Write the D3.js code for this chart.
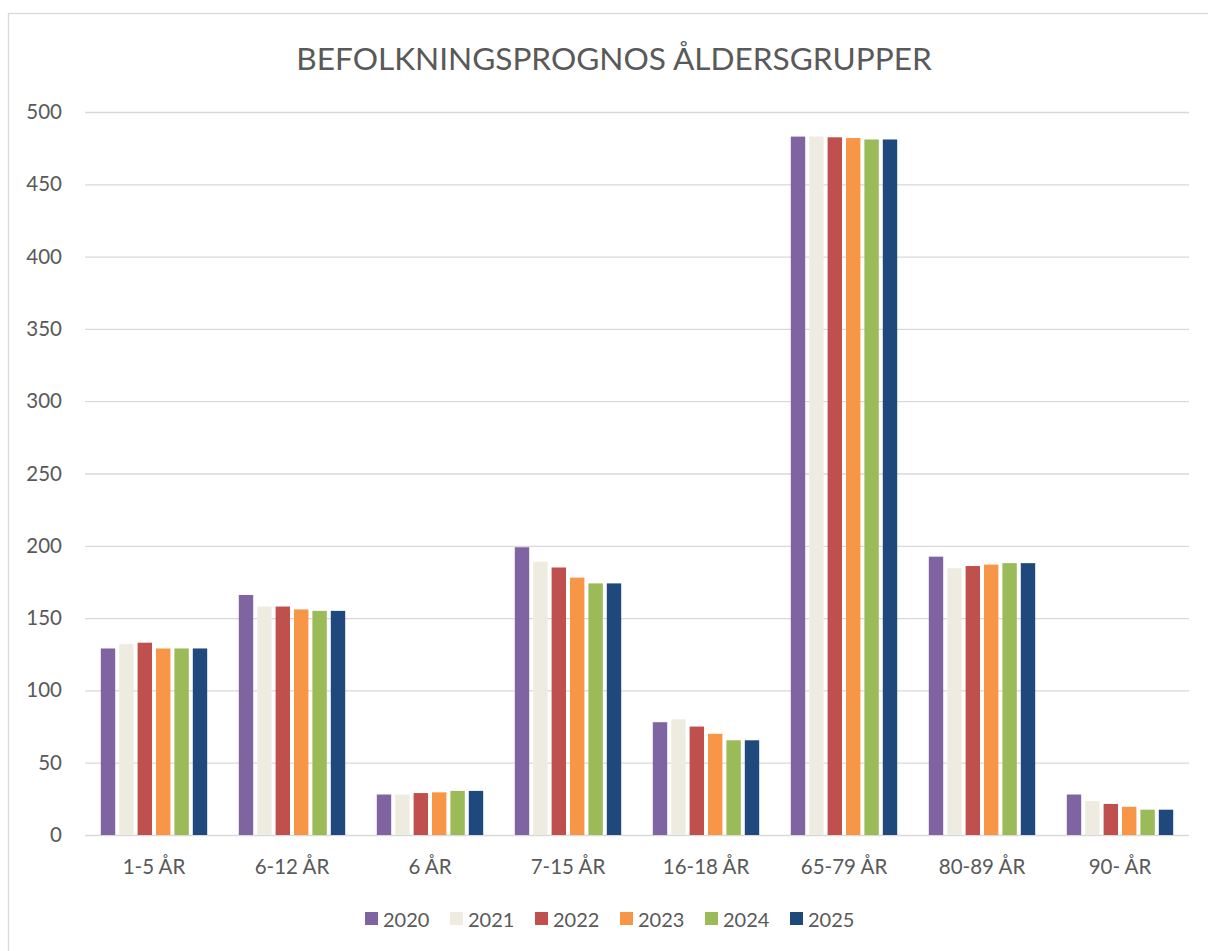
<!DOCTYPE html>
<html>
<head>
<meta charset="utf-8">
<script src="https://cdn.jsdelivr.net/npm/d3@7"></script>
<style>
  body { margin: 0; background: #fff; }
  svg text { font-family: Lato, "Open Sans", sans-serif; fill: #595959; }
</style>
</head>
<body>
<svg id="chart"></svg>
<script>
const WIDTH = 1208;
const HEIGHT = 951;

// Data
const categories = ["1-5 ÅR", "6-12 ÅR", "6 ÅR", "7-15 ÅR", "16-18 ÅR", "65-79 ÅR", "80-89 ÅR", "90- ÅR"];
const years = ["2020", "2021", "2022", "2023", "2024", "2025"];
const v2020 = [129, 166, 28, 199, 78, 483, 192.5, 28];
const v2021 = [132, 158, 28, 189, 80, 483, 184.5, 23.5];
const v2022 = [133, 158, 29, 185, 75, 482.5, 186, 21.5];
const v2023 = [129, 156, 29.5, 178, 70, 482, 187, 19.5];
const v2024 = [129, 155, 30.5, 174, 65.5, 481, 188, 17.5];
const v2025 = [129, 155, 30.5, 174, 65.5, 481, 188, 17.5];
const yTicks = [0, 50, 100, 150, 200, 250, 300, 350, 400, 450, 500];
const colors = ["#8064A2", "#EEECE1", "#C0504D", "#F79646", "#9BBB59", "#1F497D"];

const seriesValues = [v2020, v2021, v2022, v2023, v2024, v2025];

const svg = d3.select("#chart").attr("width", WIDTH).attr("height", HEIGHT);

// chart area border
svg.append("rect")
    .attr("x", 8.5).attr("y", 13.5)
    .attr("width", WIDTH + 20).attr("height", HEIGHT + 20)
    .attr("fill", "none")
    .attr("stroke", "#D9D9D9")
    .attr("stroke-width", 1.3);

const x0 = d3.scaleBand().domain(categories).range([85, 1189]).paddingInner(0.2).paddingOuter(0.1);
const x1 = d3.scaleBand().domain(years).range([0, x0.bandwidth()]);
const y = d3.scaleLinear().domain([0, 500]).range([835, 112]);

// title
svg.append("text")
    .attr("x", 614).attr("y", 70)
    .attr("text-anchor", "middle")
    .attr("font-size", 31.6)
    .text("BEFOLKNINGSPROGNOS ÅLDERSGRUPPER");

// gridlines
const yAxis = d3.axisLeft(y).tickValues(yTicks).tickSize(-(1189 - 85)).tickPadding(23);
const gy = svg.append("g").attr("transform", "translate(85,0)").call(yAxis);
gy.select(".domain").remove();
gy.selectAll(".tick line").attr("stroke", "#D9D9D9").attr("stroke-width", 1.3);
gy.selectAll(".tick text").attr("font-size", 20.5).attr("fill", "#595959").attr("font-family", "Lato, sans-serif");

// bars
const groups = svg.append("g")
    .selectAll("g")
    .data(categories)
    .enter()
    .append("g")
    .attr("transform", (c) => "translate(" + x0(c) + ",0)");

groups.selectAll("rect")
    .data((c, i) => years.map((yr, j) => ({ year: yr, value: seriesValues[j][i], color: colors[j] })))
    .enter()
    .append("rect")
    .attr("x", (d) => x1(d.year) + 2)
    .attr("width", x1.bandwidth() - 4)
    .attr("y", (d) => y(d.value))
    .attr("height", (d) => y(0) - y(d.value))
    .attr("fill", (d) => d.color);

// x axis labels
const xAxis = d3.axisBottom(x0).tickSize(0).tickPadding(24);
const gx = svg.append("g").attr("transform", "translate(0," + y(0) + ")").call(xAxis);
gx.select(".domain").remove();
gx.selectAll(".tick text").attr("font-size", 20.5).attr("fill", "#595959").attr("font-family", "Lato, sans-serif");

// legend
const legend = svg.append("g")
    .selectAll("g")
    .data(years)
    .enter()
    .append("g")
    .attr("transform", (d, i) => "translate(" + (365 + i * 85) + ",912)");
legend.append("rect")
    .attr("width", 13).attr("height", 13)
    .attr("fill", (d, i) => colors[i]);
legend.append("text")
    .attr("x", 18).attr("y", 14.5)
    .attr("font-size", 20)
    .text((d) => d);
</script>
</body>
</html>
